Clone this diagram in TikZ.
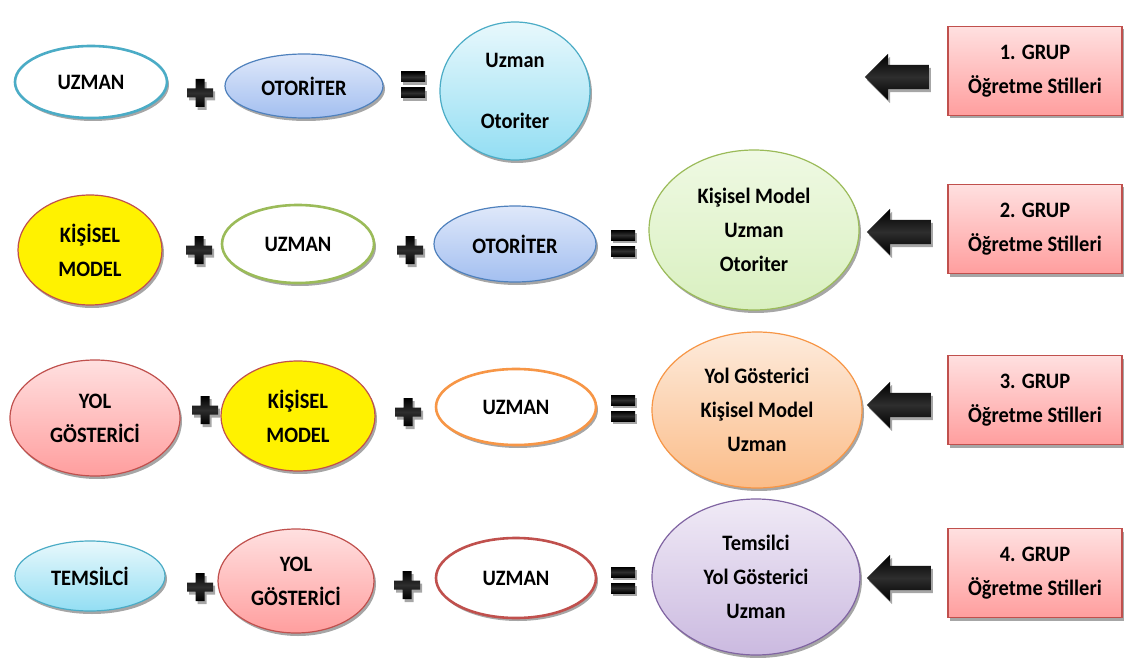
\documentclass[tikz,border=0pt]{standalone}
\usepackage{fontspec}
\setmainfont{Carlito}[FakeStretch=0.93]
\usetikzlibrary{shapes.geometric,shapes.arrows,shadows}
\definecolor{tealb}{HTML}{4BACC6}
\definecolor{blueb}{HTML}{4F81BD}
\definecolor{redb}{HTML}{C0504D}
\definecolor{greenb}{HTML}{9BBB59}
\definecolor{orangeb}{HTML}{F79646}
\definecolor{purpleb}{HTML}{8064A2}
\definecolor{bluetop}{HTML}{DFE8FA}
\definecolor{bluebot}{HTML}{A3BFF0}
\definecolor{cyantop}{HTML}{E8F8FC}
\definecolor{cyanbot}{HTML}{93DEF3}
\definecolor{pinktop}{HTML}{FFE0E0}
\definecolor{pinkbot}{HTML}{FF9E9E}
\definecolor{greentop}{HTML}{EFF9E3}
\definecolor{greenbot}{HTML}{D9F0C0}
\definecolor{orangetop}{HTML}{FDEBDC}
\definecolor{orangebot}{HTML}{FBBC88}
\definecolor{purpletop}{HTML}{F0EAF6}
\definecolor{purplebot}{HTML}{CBBAE0}
\tikzset{
  x=1pt, y=-1pt,
  txt/.style={font=\fontsize{22}{34}\selectfont\bfseries, align=center, text=black},
  shad/.style={drop shadow={shadow xshift=2pt, shadow yshift=-3pt, opacity=0.35, fill=black}},
  ell/.style={ellipse, inner sep=0pt, txt, shad},
  whiteteal/.style={ell, fill=white, draw=tealb, line width=2.6pt},
  whitegreen/.style={ell, fill=white, draw=greenb, line width=2.6pt},
  whiteorange/.style={ell, fill=white, draw=orangeb, line width=2.6pt},
  whitered/.style={ell, fill=white, draw=redb, line width=2.6pt},
  bluee/.style={ell, draw=blueb, line width=1.2pt, top color=bluetop, bottom color=bluebot},
  cyane/.style={ell, draw=tealb, line width=1.2pt, top color=cyantop, bottom color=cyanbot},
  yellowe/.style={ell, draw=redb, line width=1.2pt, fill=yellow},
  pinke/.style={ell, draw=redb, line width=1.2pt, top color=pinktop, bottom color=pinkbot},
  greene/.style={ell, draw=greenb, line width=1.2pt, top color=greentop, bottom color=greenbot},
  orangee/.style={ell, draw=orangeb, line width=1.2pt, top color=orangetop, bottom color=orangebot},
  purplee/.style={ell, draw=purpleb, line width=1.2pt, top color=purpletop, bottom color=purplebot},
  grupbox/.style={rectangle, txt, minimum width=174pt, minimum height=89pt, draw=redb, line width=1.2pt, top color=pinktop, bottom color=pinkbot, shad},
  bevel/.style={top color=black, bottom color=black, middle color=black!82},
  blockarrow/.style={single arrow, shape border rotate=180, minimum height=64pt, inner sep=0pt, minimum width=46pt, single arrow head extend=11pt, text width=0pt, text height=24pt, text depth=0pt, bevel, shad},
  plussign/.pic={
    \path[bevel, shad] (-4.5,-14) -- (4.5,-14) -- (4.5,-4.5) -- (13,-4.5) -- (13,4.5) -- (4.5,4.5) -- (4.5,14) -- (-4.5,14) -- (-4.5,4.5) -- (-13,4.5) -- (-13,-4.5) -- (-4.5,-4.5) -- cycle;
  },
  equalsign/.pic={
    \path[bevel, shad] (-12,-13) rectangle (12,-3);
    \path[bevel, shad] (-12,3) rectangle (12,13);
  }
}
\begin{document}
\begin{tikzpicture}
\useasboundingbox[fill=white] (0,0) rectangle (1125,658);

% Row 1
\node[whiteteal, minimum width=152pt, minimum height=72pt] (r1a) at (91,82) {UZMAN};
\pic at (200,93) {plussign};
\node[bluee, minimum width=158pt, minimum height=64pt] (r1b) at (304,86) {OTORİTER};
\pic at (413,85) {equalsign};
\node[cyane, minimum width=150pt, minimum height=138pt] (r1c) at (515,91) {Uzman\\[27pt]Otoriter};
\node[grupbox] (g1) at (1035,71) {1. GRUP\\Öğretme Stilleri};
\node[blockarrow] (a1) at (903,77) {};

% Row 2
\node[yellowe, minimum width=144pt, minimum height=110pt] (r2a) at (90,250) {KİŞİSEL\\MODEL};
\pic at (199,250) {plussign};
\node[whitegreen, minimum width=152pt, minimum height=78pt] (r2b) at (298,244) {UZMAN};
\pic at (410,250) {plussign};
\node[bluee, minimum width=162pt, minimum height=76pt] (r2c) at (515,244) {OTORİTER};
\pic at (623,243) {equalsign};
\node[greene, minimum width=210pt, minimum height=160pt] (r2d) at (754,230) {Kişisel Model\\Uzman\\Otoriter};
\node[grupbox] (g2) at (1035,229) {2. GRUP\\Öğretme Stilleri};
\node[blockarrow] (a2) at (905,232) {};

% Row 3
\node[pinke, minimum width=170pt, minimum height=116pt] (r3a) at (95,418) {YOL\\GÖSTERİCİ};
\pic at (205,410) {plussign};
\node[yellowe, minimum width=154pt, minimum height=110pt] (r3b) at (298,416) {KİŞİSEL\\MODEL};
\pic at (408,412) {plussign};
\node[whiteorange, minimum width=160pt, minimum height=76pt] (r3c) at (516,407) {UZMAN};
\pic at (623,408) {equalsign};
\node[orangee, minimum width=210pt, minimum height=156pt] (r3d) at (757,410) {Yol Gösterici\\Kişisel Model\\Uzman};
\node[grupbox] (g3) at (1035,400) {3. GRUP\\Öğretme Stilleri};
\node[blockarrow] (a3) at (905,405) {};

% Row 4
\node[cyane, minimum width=150pt, minimum height=70pt] (r4a) at (90,576) {TEMSİLCİ};
\pic at (200,587) {plussign};
\node[pinke, minimum width=156pt, minimum height=104pt] (r4b) at (296,581) {YOL\\GÖSTERİCİ};
\pic at (407,585) {plussign};
\node[whitered, minimum width=160pt, minimum height=80pt] (r4c) at (516,578) {UZMAN};
\pic at (623,580) {equalsign};
\node[purplee, minimum width=208pt, minimum height=156pt] (r4d) at (756,577) {Temsilci\\Yol Gösterici\\Uzman};
\node[grupbox] (g4) at (1035,573) {4. GRUP\\Öğretme Stilleri};
\node[blockarrow] (a4) at (905,578) {};
\end{tikzpicture}
\end{document}
